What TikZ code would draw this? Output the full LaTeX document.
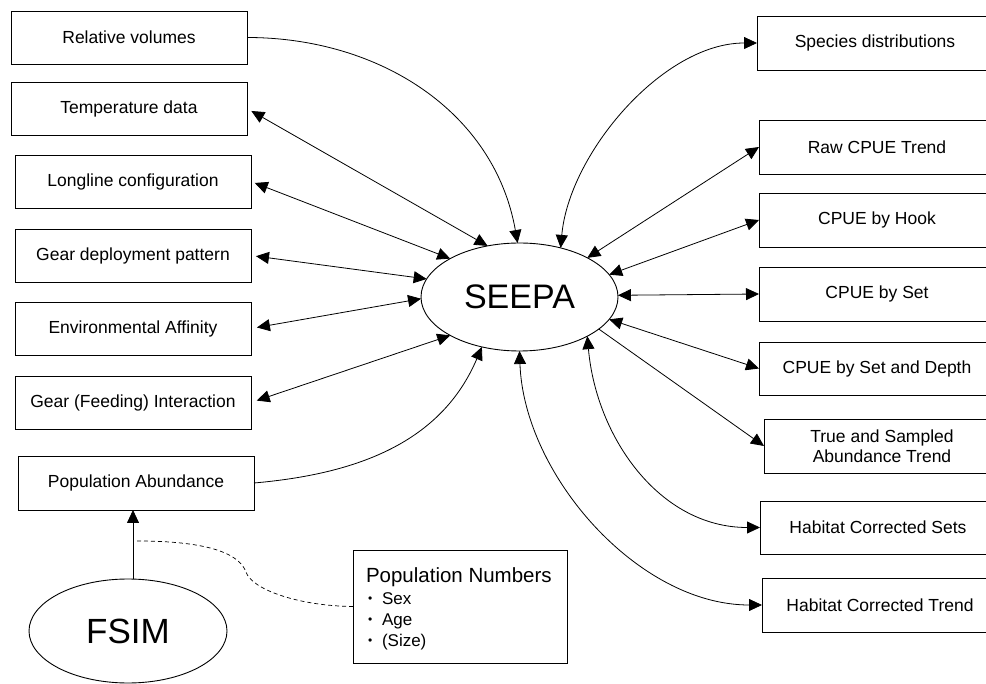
\documentclass[tikz,border=0pt]{standalone}
\usepackage{fontspec}
\setmainfont{Liberation Sans}
\usetikzlibrary{arrows.meta,shapes.geometric}
\begin{document}
\begin{tikzpicture}[x=1pt,y=-1pt,
  box/.style={draw,line width=0.9pt,minimum width=236pt,minimum height=53pt,inner sep=0pt,outer sep=0pt,font=\fontsize{17.5}{20}\selectfont,align=center},
  oval/.style={draw,ellipse,line width=0.9pt,inner sep=0pt,outer sep=0pt},
  conn/.style={line width=0.8pt,-{Triangle[length=13pt,width=12pt]}},
  dconn/.style={line width=0.8pt,{Triangle[length=13pt,width=12pt]}-{Triangle[length=13pt,width=12pt]}},
  txt/.style={anchor=base west,inner sep=0pt,outer sep=0pt}
]
\useasboundingbox (0,0) rectangle (986,684);
\clip (0,0) rectangle (986,684);
\fill[white] (0,0) rectangle (986,684);

% left boxes
\node[box] (rel) at (129,37.5) {Relative volumes};
\node[box] (temp) at (129,108.5) {Temperature data};
\node[box] (long) at (133,181.5) {Longline configuration};
\node[box] (gdep) at (133,255.5) {Gear deployment pattern};
\node[box] (env) at (133,328.5) {Environmental Affinity};
\node[box] (gfeed) at (133,402.5) {Gear (Feeding) Interaction};
\node[box,minimum height=54pt] (pop) at (136,483) {Population Abundance};

% right boxes
\node[box,minimum height=54pt] (species) at (875,43) {Species distributions};
\node[box,minimum height=54pt] (raw) at (877,147) {Raw CPUE Trend};
\node[box,minimum height=54pt] (hook) at (877,220) {CPUE by Hook};
\node[box,minimum height=54pt] (set) at (877,294) {CPUE by Set};
\node[box] (depth) at (877,368.5) {CPUE by Set and Depth};
\node[box,minimum height=54pt] (true) at (882,446) {True and Sampled\\Abundance Trend};
\node[box] (hsets) at (878,527.5) {Habitat Corrected Sets};
\node[box,minimum height=54pt] (htrend) at (880,605) {Habitat Corrected Trend};

% ellipses
\node[oval,minimum width=197pt,minimum height=108pt,font=\fontsize{34}{40}\selectfont] (seepa) at (519.5,297) {SEEPA};
\node[oval,minimum width=198pt,minimum height=104pt,font=\fontsize{35}{40}\selectfont] (fsim) at (128,631) {FSIM};

% population numbers
\node[draw,line width=0.9pt,minimum width=214pt,minimum height=113pt,anchor=north west,inner sep=0pt,outer sep=0pt] (pnbox) at (353,550) {};
\node[txt,font=\fontsize{20.5}{24}\selectfont] (pntitle) at (366,582) {Population Numbers};
\node[txt,font=\fontsize{12}{14}\selectfont] (bul1) at (368,602) {•};
\node[txt,font=\fontsize{12}{14}\selectfont] (bul2) at (368,623) {•};
\node[txt,font=\fontsize{12}{14}\selectfont] (bul3) at (368,644) {•};
\node[txt,font=\fontsize{17}{20}\selectfont] (it1) at (382,604) {Sex};
\node[txt,font=\fontsize{17}{20}\selectfont] (it2) at (382,625) {Age};
\node[txt,font=\fontsize{17}{20}\selectfont] (it3) at (382,646) {(Size)};

% left connectors
\draw[conn] (rel.east) to[out=0,in=100] (seepa.92);
\draw[dconn,shorten <=5pt] (temp.east) -- (seepa.122.5);
\draw[dconn,shorten <=4pt] (long.east) -- (seepa.151);
\draw[dconn,shorten <=5pt] (gdep.east) -- (seepa.169);
\draw[dconn,shorten <=6pt] (env.east) -- (seepa.181);
\draw[dconn,shorten <=6pt] (gfeed.east) -- (seepa.209);
\draw[conn] (pop.east) to[out=5,in=247] (seepa.233);

% right connectors
\draw[dconn] (seepa.50) to[out=85,in=180,looseness=0.85] (species.west);
\draw[dconn] (seepa.30) -- (raw.west);
\draw[dconn] (seepa.14) -- (hook.west);
\draw[dconn] (seepa.1) -- (set.west);
\draw[dconn] (seepa.346) -- (depth.west);
\draw[conn] (seepa.338) -- (true.west);
\draw[dconn] (seepa.330) to[out=-85,in=180] (hsets.west);
\draw[dconn] (seepa.270) to[out=-88,in=180,looseness=0.9] (htrend.west);

% FSIM link
\draw[conn] ([xshift=5pt]fsim.north) -- ([xshift=-3pt]pop.south);
\coordinate (dashstart) at (137,541);
\draw[line width=0.7pt,dash pattern=on 4pt off 3pt] (dashstart) .. controls (215,541) and (240,556) .. (246,572) .. controls (252,590) and (300,606) .. (pnbox.west);
\end{tikzpicture}
\end{document}
